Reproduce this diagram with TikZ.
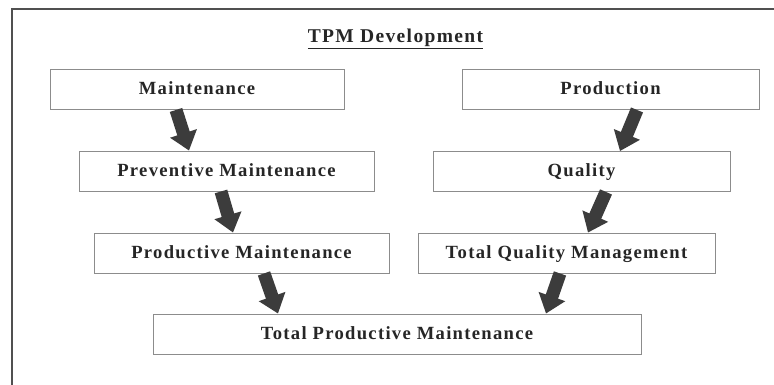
\documentclass[tikz,border=0pt]{standalone}
\usepackage{fontspec}
\setmainfont{Liberation Serif}
\newfontfamily\spacedserif{Liberation Serif}[LetterSpace=7]
\usetikzlibrary{arrows.meta}
\definecolor{framegray}{HTML}{505050}
\definecolor{boxgray}{HTML}{8C8C8C}
\definecolor{arrowgray}{HTML}{3C3C3C}
\definecolor{textgray}{HTML}{262626}
\tikzset{
  stagebox/.style={draw=boxgray, line width=0.9pt, rectangle, inner sep=0pt,
    minimum height=40pt, text height=13pt, text depth=2pt, text=textgray,
    font=\spacedserif\bfseries\fontsize{18.6pt}{20pt}\selectfont},
  flowarrow/.style={draw=arrowgray, line width=13pt,
    -{Triangle[length=18pt, width=27pt, fill=arrowgray]}},
}
\begin{document}
\begin{tikzpicture}[x=1pt, y=-1pt]
  \useasboundingbox (0,0) rectangle (774,385);
  \fill[white] (0,0) rectangle (774,385);

  % outer frame (left and top edges)
  \coordinate (fbl) at (11.5,385);
  \coordinate (ftl) at (11.5,9.5);
  \coordinate (ftr) at (774,9.5);
  \draw[framegray, line width=2pt] (fbl) -- (ftl) -- (ftr);

  % heading
  \node[text=textgray, font=\spacedserif\bfseries\fontsize{19.5pt}{21pt}\selectfont]
    (title) at (395.5,39) {\underline{TPM Development}};

  % maintenance branch
  \node[stagebox, minimum width=294pt] (m)   at (197,89.5)  {Maintenance};
  \node[stagebox, minimum width=295pt] (pm)  at (226.5,171) {Preventive Maintenance};
  \node[stagebox, minimum width=295pt] (prm) at (241.5,253) {Productive Maintenance};

  % production branch
  \node[stagebox, minimum width=297pt] (prod) at (610.5,89.5) {Production};
  \node[stagebox, minimum width=297pt] (q)    at (581.5,171.5) {Quality};
  \node[stagebox, minimum width=297pt] (tqm)  at (566.5,253) {Total Quality Management};

  % merged result
  \node[stagebox, minimum width=488pt] (tpm) at (397,334) {Total Productive Maintenance};

  % block arrows between stages
  \draw[flowarrow] ([xshift=-21pt]m.south)    -- ([xshift=-37.5pt]pm.north);
  \draw[flowarrow] ([xshift=-5.5pt]pm.south)  -- ([xshift=-8.5pt]prm.north);
  \draw[flowarrow] ([xshift=22.5pt]prm.south) -- ([xshift=-119pt]tpm.north);
  \draw[flowarrow] ([xshift=26.5pt]prod.south) -- ([xshift=38.5pt]q.north);
  \draw[flowarrow] ([xshift=24.5pt]q.south)   -- ([xshift=21.5pt]tqm.north);
  \draw[flowarrow] ([xshift=-6.5pt]tqm.south) -- ([xshift=149pt]tpm.north);
\end{tikzpicture}
\end{document}
